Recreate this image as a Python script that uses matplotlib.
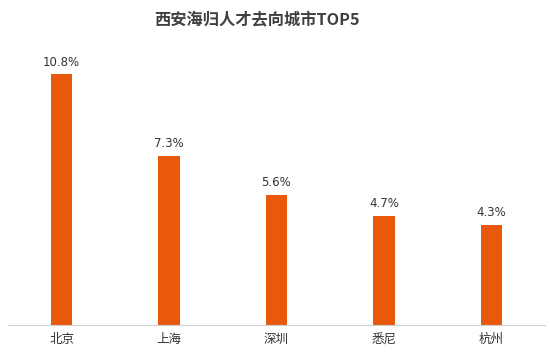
import matplotlib.pyplot as plt

plt.rcParams['font.family'] = ['Noto Sans CJK SC', 'DejaVu Sans']

cities = ['北京', '上海', '深圳', '悉尼', '杭州']
shares = [10.8, 7.3, 5.6, 4.7, 4.3]
labels = ['10.8%', '7.3%', '5.6%', '4.7%', '4.3%']

fig = plt.figure(figsize=(5.5, 3.59), dpi=100)
ax = fig.add_axes([8 / 550, (359 - 325) / 359, 537 / 550, 285 / 359])

bars = ax.bar(range(len(cities)), shares, width=0.2, color='#E8590C')
for b, t in zip(bars, labels):
    ax.text(b.get_x() + b.get_width() / 2, b.get_height() + 0.25, t,
            ha='center', va='bottom', fontsize=8.5, color='#333333',
            family=['DejaVu Sans'])

ax.set_xlim(-0.5, 4.5)
ax.set_ylim(0, 285 / 23.2)
ax.set_xticks(range(len(cities)))
ax.set_xticklabels(cities, fontsize=9, color='#333333')
ax.tick_params(axis='x', length=0, pad=6)
ax.set_yticks([])
for s in ['top', 'right', 'left']:
    ax.spines[s].set_visible(False)
ax.spines['bottom'].set_color('#d0d0d0')

fig.text(0.468, 0.945, '西安海归人才去向城市TOP5', ha='center', va='center',
         fontsize=11.7, fontweight='bold', color='#404040')

fig.savefig('out.png', dpi=100)
